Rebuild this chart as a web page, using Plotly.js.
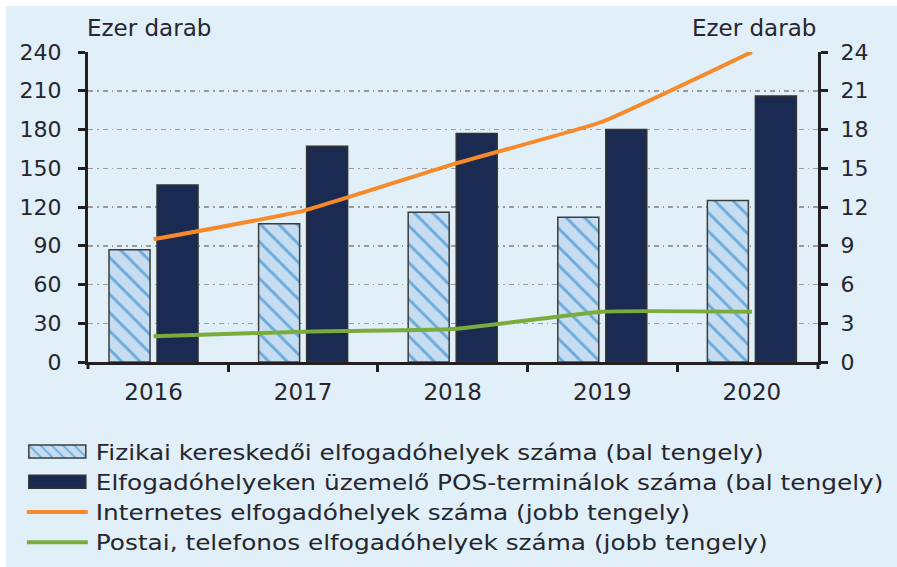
<!DOCTYPE html>
<html>
<head>
<meta charset="utf-8">
<script src="https://cdn.plot.ly/plotly-3.0.1.min.js"></script>
<style>
  html, body { margin: 0; padding: 0; background: #ffffff; }
  #chart { position: absolute; left: 6px; top: 6px; width: 891px; height: 561px; }
</style>
</head>
<body>
<div id="chart"></div>
<script>
// ---- data ----
const years = ['2016', '2017', '2018', '2019', '2020'];
const fizikai = [87, 107, 116, 112, 125];          // bal tengely
const posTerminal = [137, 167, 177, 180, 206];     // bal tengely
const internetes = [9.5, 11.7, 15.3, 18.6, 24.0];  // jobb tengely
const postai = [2.0, 2.35, 2.55, 3.9, 3.9];        // jobb tengely
const leftTicks = [0, 30, 60, 90, 120, 150, 180, 210, 240];
const rightTicks = [0, 3, 6, 9, 12, 15, 18, 21, 24];
const names = [
  'Fizikai kereskedői elfogadóhelyek száma (bal tengely)',
  'Elfogadóhelyeken üzemelő POS-terminálok száma (bal tengely)',
  'Internetes elfogadóhelyek száma (jobb tengely)',
  'Postai, telefonos elfogadóhelyek száma (jobb tengely)'
];
const axisTitle = 'Ezer darab';

const FONT = 'DejaVu Sans, Verdana, sans-serif';
const TXT = '#26262f';
const AX = '#231f20';
const BG = '#e1eff8';

const traces = [
  {
    type: 'bar', x: years, y: fizikai, name: names[0], yaxis: 'y',
    marker: {
      color: '#c6dcf0',
      line: { color: '#3c3c3c', width: 1.5 },
      pattern: { shape: '\\', fgcolor: '#6aaadb', bgcolor: '#c6dcf0', size: 13, solidity: 0.22 }
    },
    hoverinfo: 'skip'
  },
  {
    type: 'bar', x: years, y: posTerminal, name: names[1], yaxis: 'y',
    marker: { color: '#1a2a50', line: { color: '#333333', width: 1.5 } },
    hoverinfo: 'skip'
  },
  {
    type: 'scatter', mode: 'lines', x: years, y: internetes, name: names[2], yaxis: 'y2',
    line: { color: '#f68a2a', width: 4, shape: 'spline', smoothing: 0.35 },
    hoverinfo: 'skip'
  },
  {
    type: 'scatter', mode: 'lines', x: years, y: postai, name: names[3], yaxis: 'y2',
    line: { color: '#7aab3c', width: 4, shape: 'spline', smoothing: 0.35 },
    hoverinfo: 'skip'
  }
];

const layout = {
  width: 891, height: 561,
  paper_bgcolor: BG, plot_bgcolor: BG,
  margin: { l: 82, r: 79, t: 46, b: 205, pad: 0, autoexpand: false },
  font: { family: FONT, color: TXT, size: 21 },
  barmode: 'group', bargap: 0.358, bargroupgap: 0.146,
  showlegend: true,
  xaxis: {
    type: 'category', range: [-0.438, 4.442],
    showline: true, linecolor: AX, linewidth: 3,
    ticks: 'outside', tickson: 'boundaries', ticklen: 7, tickwidth: 3, tickcolor: AX,
    showgrid: false, zeroline: false,
    tickfont: { family: FONT, size: 23, color: TXT },
    ticklabelstandoff: 7, fixedrange: true, automargin: false
  },
  yaxis: {
    range: [0, 240], tickvals: leftTicks, ticktext: leftTicks.map(String),
    showline: true, linecolor: AX, linewidth: 3,
    ticks: 'outside', ticklen: 7, tickwidth: 3, tickcolor: AX,
    showgrid: true, gridcolor: '#9a9a9a', gridwidth: 1.5, griddash: '5px,4px,1.5px,4px',
    zeroline: false, tickfont: { family: FONT, size: 22, color: TXT },
    ticklabelstandoff: 12, fixedrange: true, automargin: false
  },
  yaxis2: {
    range: [0, 24], tickvals: rightTicks, ticktext: rightTicks.map(String),
    overlaying: 'y', side: 'right',
    showline: true, linecolor: AX, linewidth: 3,
    ticks: 'outside', ticklen: 7, tickwidth: 3, tickcolor: AX,
    showgrid: false, zeroline: false,
    tickfont: { family: FONT, size: 22, color: TXT },
    ticklabelstandoff: 8, fixedrange: true, automargin: false
  },
  legend: {
    orientation: 'v', xref: 'container', yref: 'container',
    x: 0.02, y: 0.242, xanchor: 'left', yanchor: 'top',
    bgcolor: 'rgba(0,0,0,0)', borderwidth: 0,
    font: { family: FONT, size: 21, color: TXT },
    itemwidth: 62, tracegroupgap: 0, traceorder: 'normal'
  },
  shapes: [
    // outer boundary ticks of the category axis at both value axes
    { type: 'line', xref: 'paper', yref: 'paper', x0: 0, x1: 0, y0: 0, y1: -7 / 310,
      line: { color: AX, width: 3 } },
    { type: 'line', xref: 'paper', yref: 'paper', x0: 1, x1: 1, y0: 0, y1: -7 / 310,
      line: { color: AX, width: 3 } }
  ],
  annotations: [
    { text: axisTitle, xref: 'paper', yref: 'paper', x: -0.004, y: 1 + 24 / 310,
      xanchor: 'left', yanchor: 'middle', showarrow: false,
      font: { family: FONT, size: 23, color: TXT } },
    { text: axisTitle, xref: 'paper', yref: 'paper', x: 1.0, y: 1 + 24 / 310,
      xanchor: 'right', yanchor: 'middle', showarrow: false,
      font: { family: FONT, size: 23, color: TXT } }
  ]
};

Plotly.newPlot('chart', traces, layout, { displayModeBar: false, staticPlot: true }).then(function (gd) {
  // widen legend swatches and stretch legend text horizontally like the reference
  const sb = gd.querySelector('.legend .scrollbox');
  if (sb) sb.removeAttribute('clip-path');
  gd.querySelectorAll('.legend .traces').forEach(function (tr) {
    tr.querySelectorAll('path.legendbar, path.legendundefined').forEach(function (p) {
      p.setAttribute('transform', 'translate(0,0)');
      p.setAttribute('d', 'M5,-6.5H62V6.5H5Z');
    });
    tr.querySelectorAll('.legendlines path').forEach(function (p) {
      p.setAttribute('d', 'M3,0H64');
    });
    const t = tr.querySelector('text.legendtext');
    if (t) {
      const x0 = parseFloat(t.getAttribute('x')) || 0;
      t.setAttribute('transform', 'translate(' + x0 + ',0) scale(1.18,1) translate(' + (-x0) + ',0)');
    }
  });
});
</script>
</body>
</html>
